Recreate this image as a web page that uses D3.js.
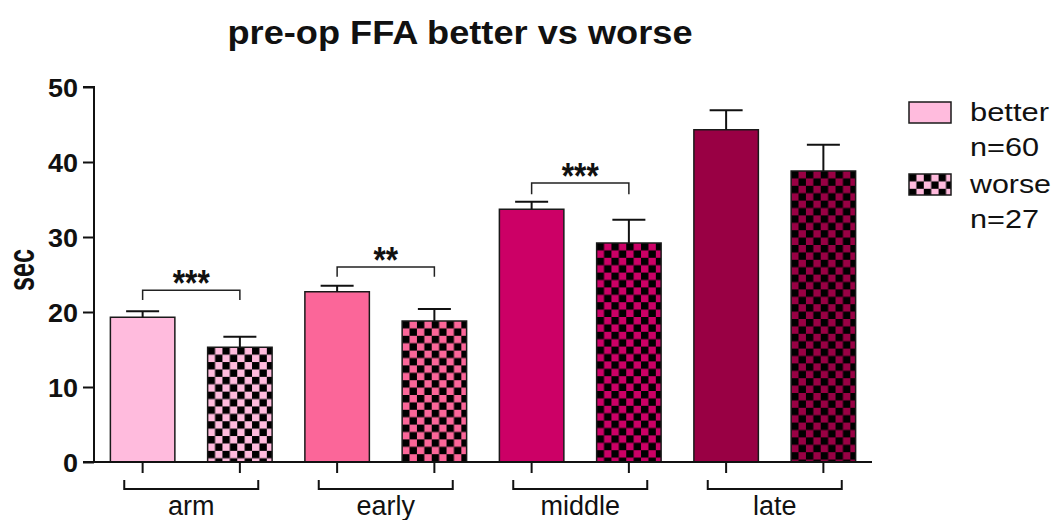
<!DOCTYPE html>
<html>
<head>
<meta charset="utf-8">
<script src="https://cdn.jsdelivr.net/npm/d3@7"></script>
<style>
  html, body { margin: 0; padding: 0; background: #fff; }
  svg { display: block; font-family: "Liberation Sans", Arial, sans-serif; }
</style>
</head>
<body>
<svg id="chart" width="1059" height="520"></svg>
<script>
// Phase categories and group names
const categories = ["arm", "early", "middle", "late"];
const groups = ["better", "worse"];
const groupLabels = [["better", "n=60"], ["worse", "n=27"]];

// Mean time (sec) and SEM per phase
const betterMean = [19.3, 22.7, 33.7, 44.3];
const betterSem  = [0.8, 0.8, 1.0, 2.6];
const worseMean  = [15.3, 18.8, 29.2, 38.8];
const worseSem   = [1.4, 1.6, 3.1, 3.5];

// Fill colour per phase
const phaseColors = ["#ffbbdd", "#fb6699", "#cc0066", "#990044"];

// Y axis ticks
const yTicks = [0, 10, 20, 30, 40, 50];

// Significance markers: phase, bracket height (sec), drop end (sec), label
const sigPhases = ["arm", "early", "middle"];
const sigHeights = [22.9, 26.0, 37.2];
const sigDrops = [21.6, 24.7, 35.7];
const sigLabels = ["***", "**", "***"];

const svg = d3.select("#chart");
const defs = svg.append("defs");

const axisLeft = 94, axisRight = 872;
const y = d3.scaleLinear().domain([0, 50]).range([462, 87]);
const x0 = d3.scaleBand().domain(categories).range([axisLeft, axisRight]).padding(0);
const x1 = d3.scaleBand().domain(groups).range([0, x0.bandwidth()])
  .paddingInner(0.337).paddingOuter(0.1685);

const bars = [];
categories.forEach((c, i) => {
  bars.push({cat: c, i, group: "better", mean: betterMean[i], sem: betterSem[i]});
  bars.push({cat: c, i, group: "worse", mean: worseMean[i], sem: worseSem[i]});
});

const cell = 7.4;
function checker(id, color, ox, oy) {
  const p = defs.append("pattern")
    .attr("id", id)
    .attr("patternUnits", "userSpaceOnUse")
    .attr("x", ox).attr("y", oy)
    .attr("width", cell * 2).attr("height", cell * 2);
  p.append("rect").attr("width", cell * 2).attr("height", cell * 2).attr("fill", color);
  p.append("rect").attr("x", 0).attr("y", 0).attr("width", cell).attr("height", cell).attr("fill", "#000");
  p.append("rect").attr("x", cell).attr("y", cell).attr("width", cell).attr("height", cell).attr("fill", "#000");
}

// Title
svg.append("text")
  .attr("x", 460).attr("y", 44)
  .attr("text-anchor", "middle")
  .attr("font-size", 33).attr("font-weight", "bold").attr("fill", "#111")
  .attr("textLength", 465).attr("lengthAdjust", "spacingAndGlyphs")
  .text("pre-op FFA better vs worse");

// Bars
const barG = svg.append("g");
bars.forEach((d, k) => {
  const bx = x0(d.cat) + x1(d.group);
  const by = y(d.mean);
  let fill = phaseColors[d.i];
  if (d.group === "worse") {
    const id = "chk" + k;
    checker(id, phaseColors[d.i], bx, by);
    fill = `url(#${id})`;
  }
  barG.append("rect")
    .attr("x", bx).attr("y", by)
    .attr("width", x1.bandwidth()).attr("height", y(0) - by)
    .attr("fill", fill)
    .attr("stroke", "#1a1a1a").attr("stroke-width", 1.5);
});

// Error bars (upper only)
const errG = svg.append("g").attr("stroke", "#111").attr("stroke-width", 2);
bars.forEach(d => {
  const cx = x0(d.cat) + x1(d.group) + x1.bandwidth() / 2;
  errG.append("line").attr("x1", cx).attr("x2", cx)
    .attr("y1", y(d.mean)).attr("y2", y(d.mean + d.sem));
  errG.append("line").attr("x1", cx - 16.5).attr("x2", cx + 16.5)
    .attr("y1", y(d.mean + d.sem)).attr("y2", y(d.mean + d.sem));
});

// Y axis
const yAxis = d3.axisLeft(y).tickValues(yTicks).tickSize(11).tickPadding(5).tickFormat(d3.format("d"));
const yG = svg.append("g").attr("transform", `translate(${axisLeft},0)`).call(yAxis);
yG.select(".domain").attr("stroke", "#111").attr("stroke-width", 2).attr("d", `M-11,${y(50)}H0V${y(0)}H-11`);
yG.selectAll(".tick line").attr("stroke", "#111").attr("stroke-width", 2);
yG.selectAll(".tick text")
  .attr("font-size", 26).attr("font-weight", "bold").attr("fill", "#111")
  .attr("font-family", "Liberation Sans, Arial, sans-serif")
  .attr("dy", "0.36em")
  .attr("textLength", d => d === 0 ? 15 : 30).attr("lengthAdjust", "spacingAndGlyphs");

// Y axis title
svg.append("text")
  .attr("transform", "translate(34,270) rotate(-90)")
  .attr("text-anchor", "middle")
  .attr("font-size", 36).attr("font-weight", "bold").attr("fill", "#111")
  .attr("textLength", 42).attr("lengthAdjust", "spacingAndGlyphs")
  .text("sec");

// X axis line and per-bar ticks
svg.append("line")
  .attr("x1", axisLeft).attr("x2", axisRight)
  .attr("y1", y(0)).attr("y2", y(0))
  .attr("stroke", "#111").attr("stroke-width", 2);
bars.forEach(d => {
  const cx = x0(d.cat) + x1(d.group) + x1.bandwidth() / 2;
  svg.append("line").attr("x1", cx).attr("x2", cx)
    .attr("y1", y(0)).attr("y2", y(0) + 11)
    .attr("stroke", "#111").attr("stroke-width", 2);
});

// Group brackets and labels
categories.forEach(c => {
  const cx = x0(c) + x0.bandwidth() / 2;
  svg.append("path")
    .attr("d", `M${cx - 67},480V489H${cx + 67}V480`)
    .attr("fill", "none").attr("stroke", "#111").attr("stroke-width", 2);
  svg.append("text")
    .attr("x", cx).attr("y", 515)
    .attr("text-anchor", "middle")
    .attr("font-size", 27).attr("fill", "#111")
    .text(c);
});

// Significance brackets
sigPhases.forEach((c, k) => {
  const xa = x0(c) + x1("better") + x1.bandwidth() / 2;
  const xb = x0(c) + x1("worse") + x1.bandwidth() / 2;
  svg.append("path")
    .attr("d", `M${xa},${y(sigDrops[k])}V${y(sigHeights[k])}H${xb}V${y(sigDrops[k])}`)
    .attr("fill", "none").attr("stroke", "#222").attr("stroke-width", 1.5);
  svg.append("text")
    .attr("x", (xa + xb) / 2).attr("y", y(sigHeights[k]) + 6)
    .attr("text-anchor", "middle")
    .attr("font-size", 36).attr("font-weight", "bold").attr("fill", "#111")
    .attr("textLength", sigLabels[k].length * 12.3).attr("lengthAdjust", "spacingAndGlyphs")
    .text(sigLabels[k]);
});

// Legend
const legendY = [102, 174];
const legendG = svg.append("g");
groups.forEach((g, k) => {
  let fill = phaseColors[0];
  if (g === "worse") {
    checker("chkLegend", phaseColors[0], 909, legendY[k]);
    fill = "url(#chkLegend)";
  }
  legendG.append("rect")
    .attr("x", 909).attr("y", legendY[k])
    .attr("width", 42).attr("height", 21)
    .attr("fill", fill).attr("stroke", "#1a1a1a").attr("stroke-width", 1.5);
  groupLabels[k].forEach((t, j) => {
    legendG.append("text")
      .attr("x", 970).attr("y", legendY[k] + 19 + j * 35)
      .attr("font-size", 26).attr("fill", "#111")
      .attr("textLength", j === 0 ? (g === "better" ? 79 : 81) : 69)
      .attr("lengthAdjust", "spacingAndGlyphs")
      .text(t);
  });
});
</script>
</body>
</html>
